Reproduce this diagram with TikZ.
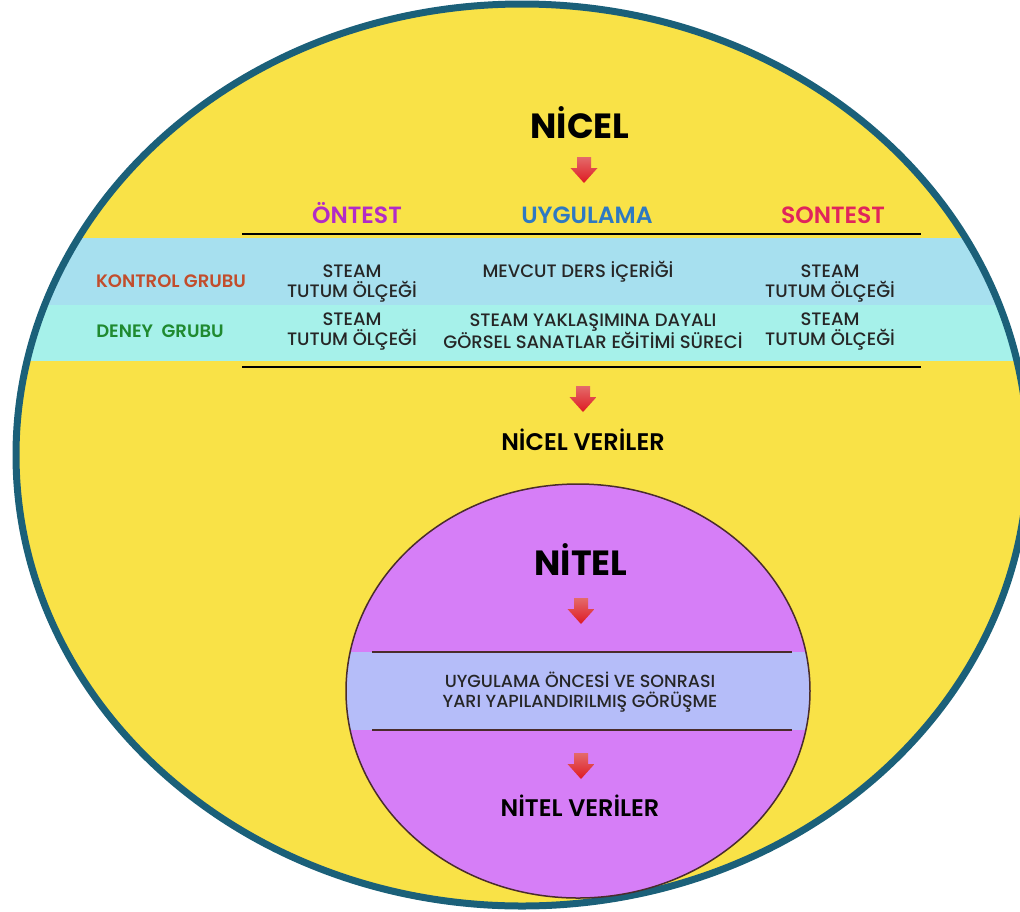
\documentclass[tikz,border=0pt]{standalone}
\usepackage{fontspec}
\setmainfont{Poppins}
\newfontfamily\semibold{Poppins SemiBold}
\newfontfamily\medium{Poppins Medium}
\definecolor{sun}{HTML}{F9E247}
\definecolor{rim}{HTML}{1B6079}
\definecolor{skyband}{HTML}{A7E0EF}
\definecolor{aquaband}{HTML}{A6F1EA}
\definecolor{orchid}{HTML}{D67EF7}
\definecolor{lavband}{HTML}{B5BDF9}
\definecolor{innerrim}{HTML}{4A2C2C}
\definecolor{pretxt}{HTML}{B22BC6}
\definecolor{apptxt}{HTML}{2E79C2}
\definecolor{posttxt}{HTML}{E0245C}
\definecolor{ctrltxt}{HTML}{C24D2C}
\definecolor{exptxt}{HTML}{1F8A30}
\definecolor{bodytxt}{HTML}{262626}
\definecolor{arrowtop}{HTML}{E46A6A}
\definecolor{arrowbot}{HTML}{DE1A22}
\begin{document}
\begin{tikzpicture}[x=1pt,y=-1pt,
  bigtitle/.style={font=\fontsize{35}{40}\selectfont\bfseries, text=black, inner sep=0pt},
  subtitle/.style={font=\fontsize{24}{28}\selectfont\semibold, text=black, inner sep=0pt},
  colhead/.style={font=\fontsize{23.5}{28}\selectfont\semibold, inner sep=0pt},
  rowhead/.style={font=\fontsize{18}{20}\selectfont\semibold, inner sep=0pt},
  cell/.style={font=\fontsize{18}{20}\selectfont\medium, text=bodytxt, align=center, inner sep=0pt},
  rule/.style={line width=2.6pt, black},
  thinrule/.style={line width=1.4pt, innerrim},
  droparrow/.pic={
    \shade[top color=arrowtop, bottom color=arrowbot]
      (-7,0) -- (7,0) -- (7,11) -- (13.5,11) -- (0,26) -- (-13.5,11) -- (-7,11) -- cycle;
  }]
\useasboundingbox (0,0) rectangle (1020,911);

% outer ellipse with the two group bands
\fill[sun] (522,455) ellipse [x radius=506pt, y radius=451pt];
\begin{scope}
  \clip (522,455) ellipse [x radius=506pt, y radius=451pt];
  \fill[skyband] (0,238) rectangle (1020,305);
  \fill[aquaband] (0,305) rectangle (1020,361);
\end{scope}
\draw[rim, line width=7pt] (522,455) ellipse [x radius=506pt, y radius=451pt];

% table rules
\coordinate (tl) at (242,234);
\coordinate (tr) at (921,234);
\coordinate (bl) at (242,367);
\coordinate (br) at (921,367);
\draw[rule] (tl) -- (tr);
\draw[rule] (bl) -- (br);

% quantitative part
\node[bigtitle, anchor=base] (nicel) at (580,138) {NİCEL};
\pic at (584,157) {droparrow};

\node[colhead, text=pretxt, anchor=base] (pre) at (357,223) {ÖNTEST};
\node[colhead, text=apptxt, anchor=base] (app) at (587,223) {UYGULAMA};
\node[colhead, text=posttxt, anchor=base] (post) at (833,223) {SONTEST};

\node[rowhead, text=ctrltxt, anchor=base] (ctrl) at (171,287) {KONTROL GRUBU};
\node[rowhead, text=exptxt, anchor=base] (exp) at (160,337) {DENEY\ \ GRUBU};

\node[cell] (ctrlpre) at (352,283.5) {STEAM\\TUTUM ÖLÇEĞİ};
\node[cell, anchor=base] (ctrlapp) at (578,277) {MEVCUT DERS İÇERİĞİ};
\node[cell] (ctrlpost) at (830,283.5) {STEAM\\TUTUM ÖLÇEĞİ};

\node[cell] (exppre) at (352,331.5) {STEAM\\TUTUM ÖLÇEĞİ};
\node[cell] (expapp) at (593,331.5) {STEAM YAKLAŞIMINA DAYALI\\GÖRSEL SANATLAR EĞİTİMİ SÜRECİ};
\node[cell] (exppost) at (830,331.5) {STEAM\\TUTUM ÖLÇEĞİ};

\pic at (583,386) {droparrow};
\node[subtitle, anchor=base] (nicelv) at (583,450) {NİCEL VERİLER};

% qualitative part
\fill[orchid] (578,691) ellipse [x radius=232pt, y radius=207pt];
\begin{scope}
  \clip (578,691) ellipse [x radius=232pt, y radius=207pt];
  \fill[lavband] (300,652) rectangle (860,730);
\end{scope}
\draw[innerrim, line width=1.5pt] (578,691) ellipse [x radius=232pt, y radius=207pt];

\coordinate (itl) at (372,652);
\coordinate (itr) at (792,652);
\coordinate (ibl) at (372,730);
\coordinate (ibr) at (792,730);
\draw[thinrule] (itl) -- (itr);
\draw[thinrule] (ibl) -- (ibr);

\node[bigtitle, anchor=base] (nitel) at (581,575) {NİTEL};
\pic at (581,598) {droparrow};
\node[cell, font=\fontsize{17.5}{20}\selectfont\medium] (interview) at (580,692) {UYGULAMA ÖNCESİ VE SONRASI\\YARI YAPILANDIRILMIŞ GÖRÜŞME};
\pic at (581,753) {droparrow};
\node[subtitle, anchor=base] (nitelv) at (580,816) {NİTEL VERİLER};
\end{tikzpicture}
\end{document}
